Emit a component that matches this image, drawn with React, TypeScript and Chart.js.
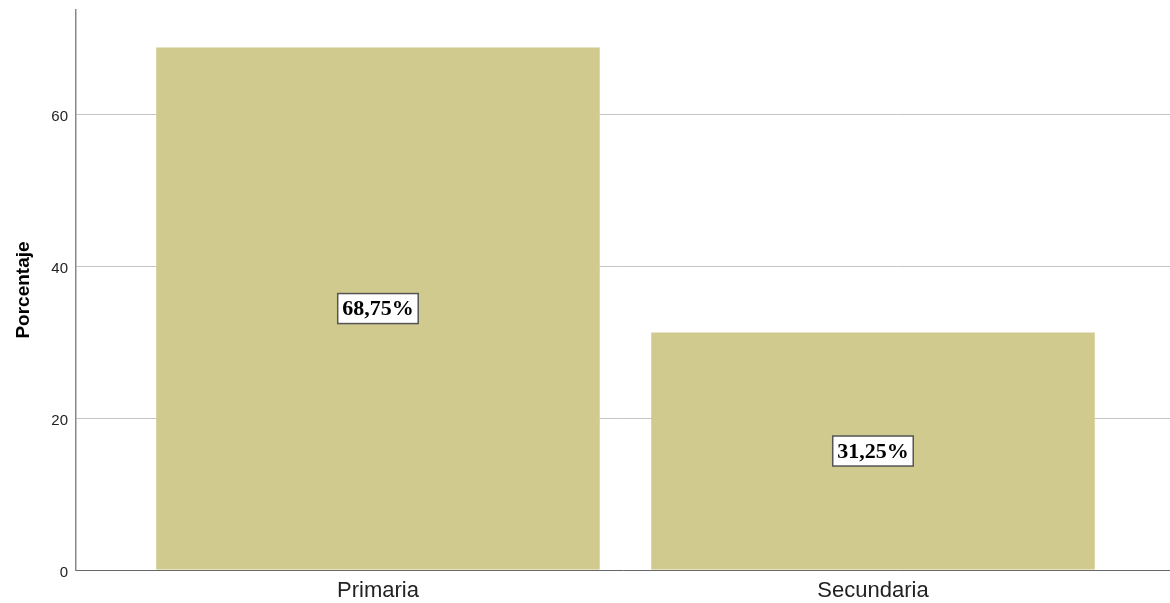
import React, { useEffect, useRef } from "react";
import { Chart, registerables } from "chart.js";

Chart.register(...registerables);

const categories = ["Primaria", "Secundaria"];
const values = [68.75, 31.25];
const valueLabels = ["68,75%", "31,25%"];
const yTicks = [0, 20, 40, 60];
const yTitle = "Porcentaje";

const labelPlugin = {
  id: "boxLabels",
  afterDatasetsDraw(chart: any) {
    const ctx = chart.ctx;
    const meta = chart.getDatasetMeta(0);
    ctx.save();
    ctx.font = "bold 22px 'Liberation Serif', 'Times New Roman', serif";
    ctx.textAlign = "center";
    ctx.textBaseline = "middle";
    meta.data.forEach((bar: any, i: number) => {
      const cx = bar.x;
      const cy = (bar.y + bar.base) / 2;
      const text = valueLabels[i];
      const w = ctx.measureText(text).width + 9;
      const h = 30;
      ctx.fillStyle = "#ffffff";
      ctx.fillRect(cx - w / 2, cy - h / 2, w, h);
      ctx.strokeStyle = "#555555";
      ctx.lineWidth = 1.5;
      ctx.strokeRect(cx - w / 2, cy - h / 2, w, h);
      ctx.fillStyle = "#000000";
      ctx.fillText(text, cx, cy + 1);
    });
    ctx.restore();
  },
};

export default function App() {
  const ref = useRef<HTMLCanvasElement>(null);
  useEffect(() => {
    if (!ref.current) return;
    const chart = new Chart(ref.current, {
      type: "bar",
      data: {
        datasets: [
          {
            data: values.map((v, i) => ({ x: i, y: v })),
            backgroundColor: "#d0ca8e",
            borderWidth: 0,
            categoryPercentage: 0.896,
            barPercentage: 1,
          },
        ],
      },
      options: {
        animation: false,
        responsive: true,
        maintainAspectRatio: false,
        layout: { padding: { top: 10, right: 0, left: 0, bottom: 0 } },
        plugins: { legend: { display: false }, tooltip: { enabled: false } },
        scales: {
          x: {
            type: "linear",
            min: -0.61,
            max: 1.6,
            offset: false,
            grid: { display: false, drawTicks: false, offset: false },
            border: { display: true, color: "#666666", width: 1 },
            afterBuildTicks: (scale: any) => {
              scale.ticks = categories.map((_, i) => ({ value: i }));
            },
            afterFit: (scale: any) => {
              scale.height = 33;
              scale.paddingLeft = 0;
              scale.paddingRight = 0;
            },
            ticks: {
              autoSkip: false,
              maxRotation: 0,
              padding: 8,
              color: "#222222",
              font: { family: "'Liberation Sans', Arial, sans-serif", size: 22 },
              callback: (v: any) => categories[Math.round(Number(v))] ?? "",
            },
          },
          y: {
            min: 0,
            max: 73.7,
            grid: { color: "#c4c4c4", lineWidth: 1, drawTicks: false },
            border: { display: true, color: "#888888", width: 1.5 },
            afterBuildTicks: (scale: any) => {
              scale.ticks = yTicks.map((v) => ({ value: v }));
            },
            afterFit: (scale: any) => {
              scale.width = 76;
              scale.paddingTop = 0;
              scale.paddingBottom = 0;
            },
            title: {
              display: true,
              text: yTitle,
              color: "#000000",
              font: { family: "'Liberation Sans', Arial, sans-serif", size: 19, weight: "bold" },
              padding: { top: 12, bottom: 0 },
            },
            ticks: {
              padding: 8,
              labelOffset: 3,
              color: "#222222",
              font: { family: "'Liberation Sans', Arial, sans-serif", size: 15 },
            },
          },
        },
      },
      plugins: [labelPlugin],
    });
    return () => chart.destroy();
  }, []);
  return (
    <div style={{ position: "fixed", left: 0, top: 0, width: 1170, height: 603, background: "#ffffff" }}>
      <canvas ref={ref} />
    </div>
  );
}
